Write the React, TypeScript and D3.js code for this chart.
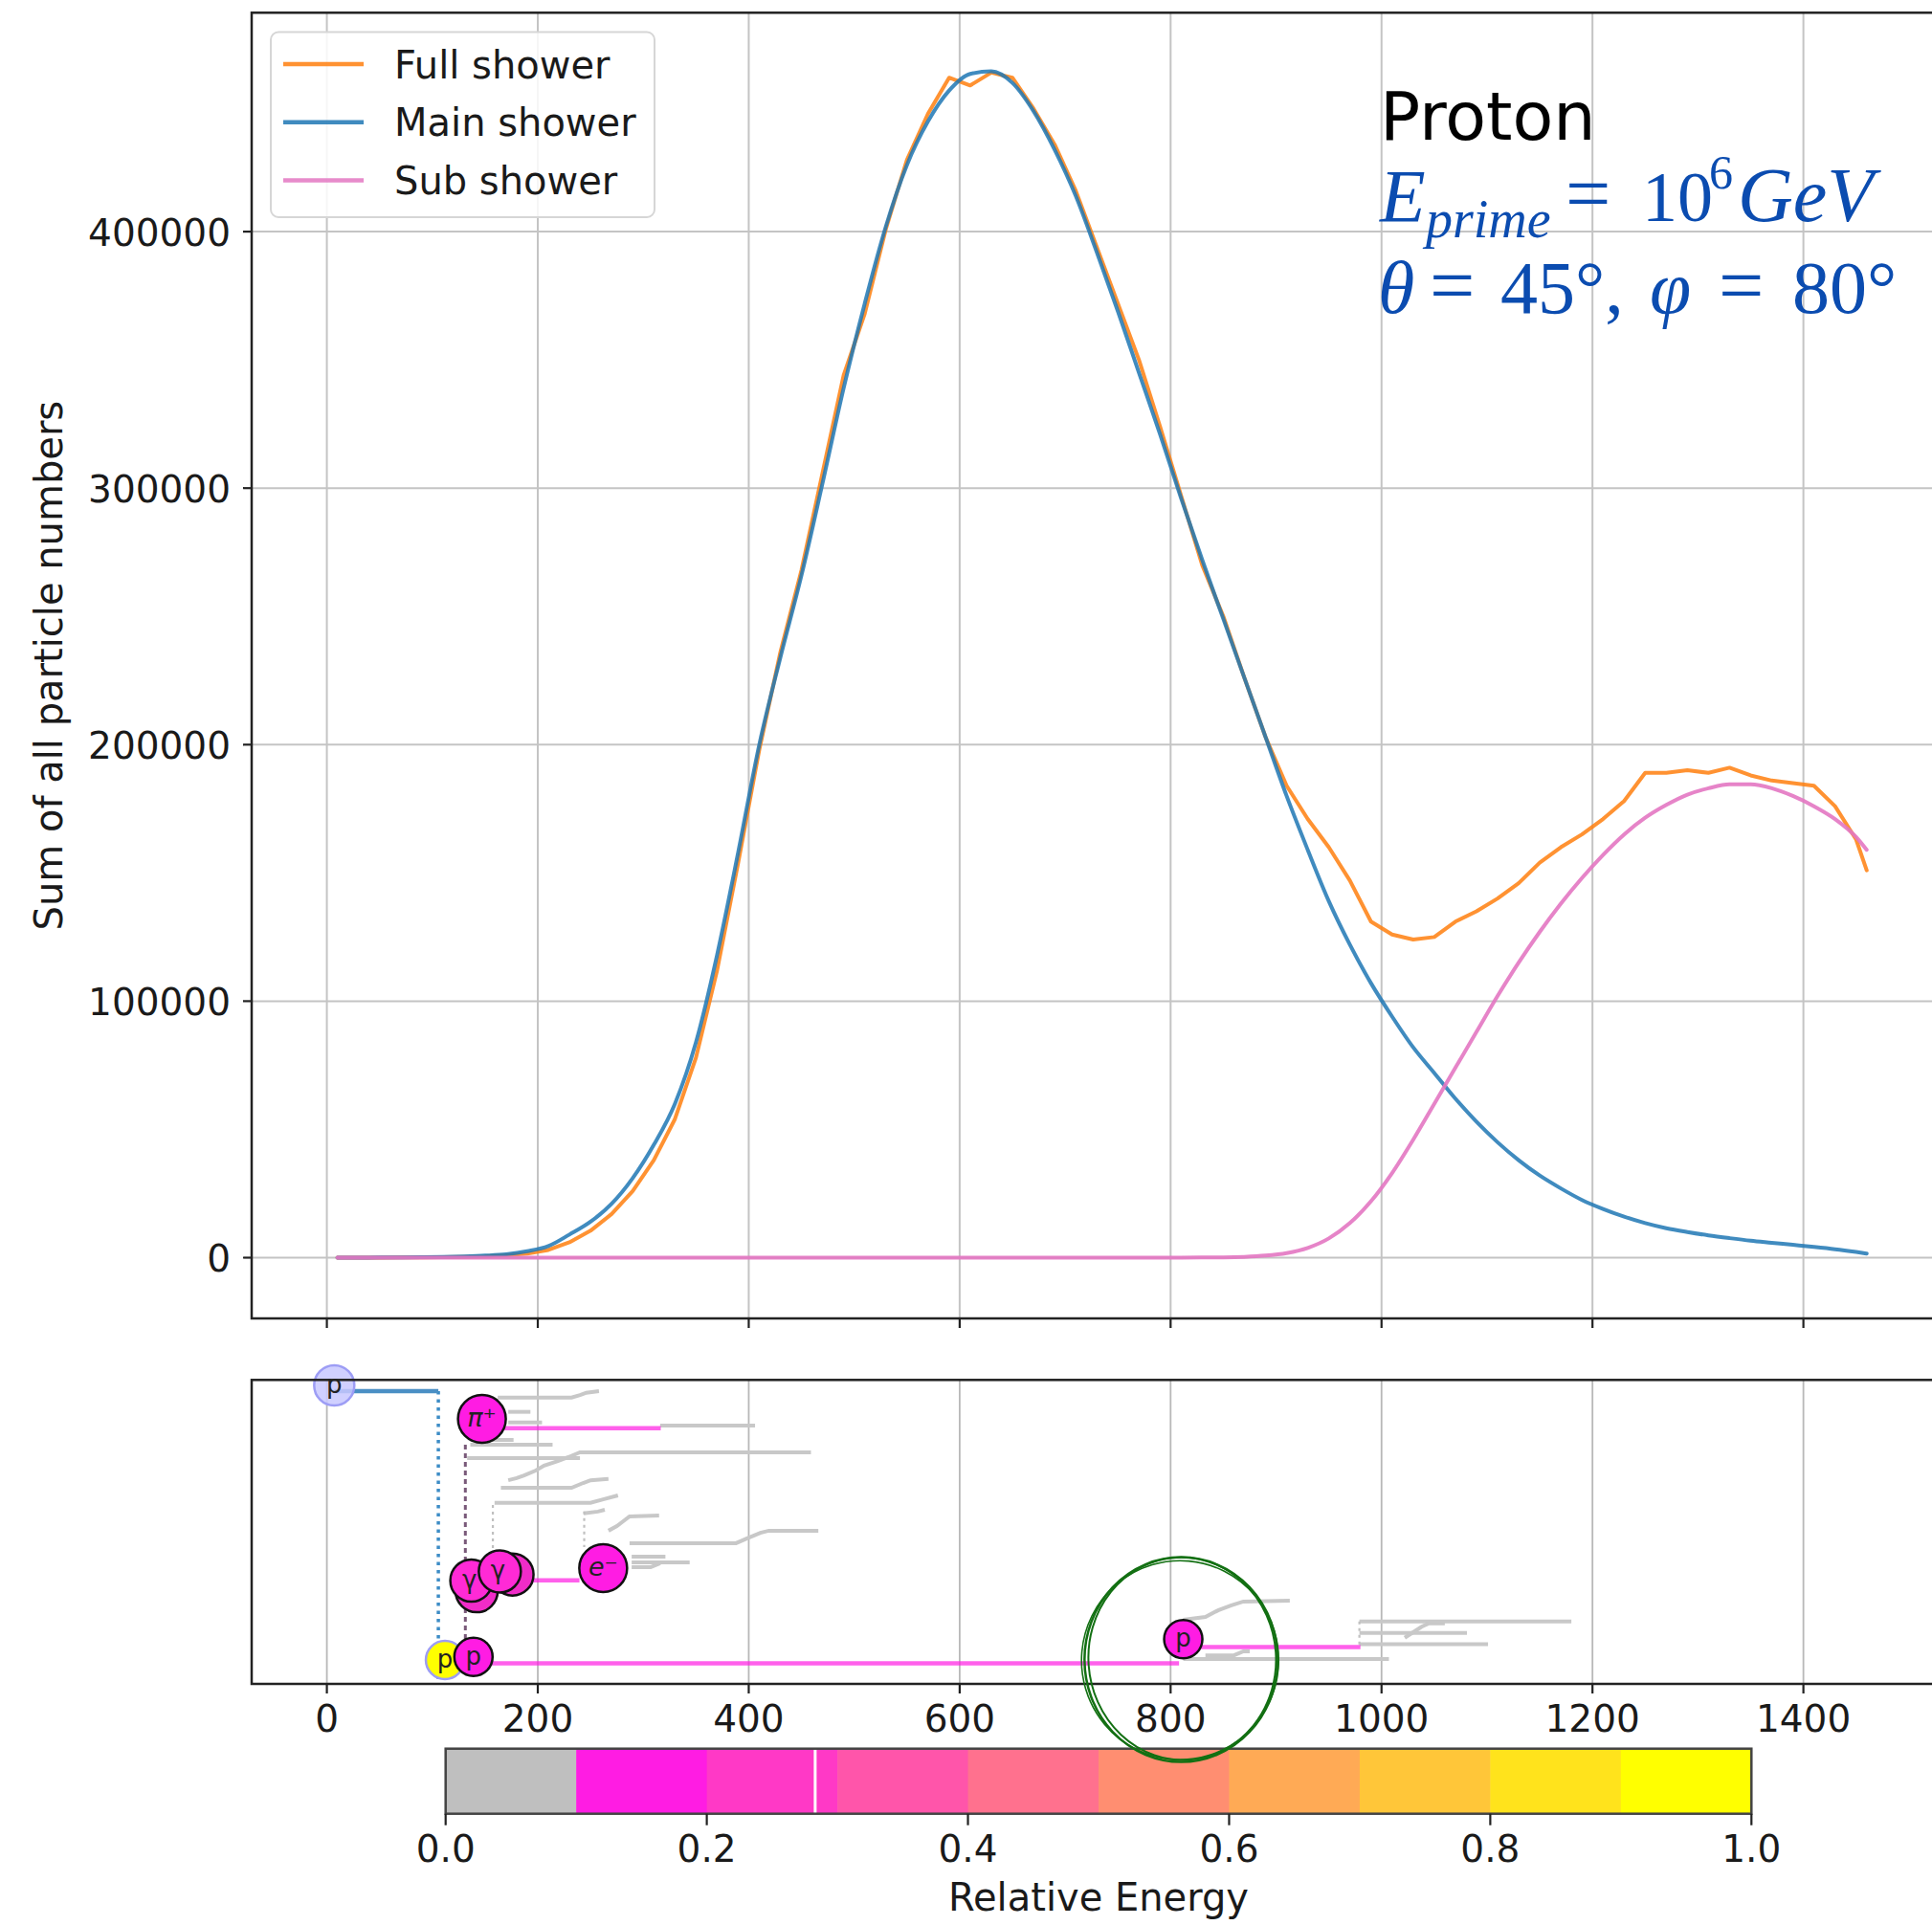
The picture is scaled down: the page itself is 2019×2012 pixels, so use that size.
import React from 'react'
import * as d3 from 'd3'

// ---- data ----
const showerX = [10, 30, 50, 70, 90, 110, 130, 150, 170, 190, 210, 230, 250, 270, 290, 310, 330, 350, 370, 390,
  410, 430, 450, 470, 490, 510, 530, 550, 570, 590, 610, 630, 650, 670, 690, 710, 730, 750, 770, 790,
  810, 830, 850, 870, 890, 910, 930, 950, 970, 990, 1010, 1030, 1050, 1070, 1090, 1110, 1130, 1150, 1170, 1190,
  1210, 1230, 1250, 1270, 1290, 1310, 1330, 1350, 1370, 1390, 1410, 1430, 1450, 1460]

const fullShower = [0, 0, 0, 50, 100, 200, 300, 500, 900, 1600, 3000, 6000, 10500, 17000, 26000, 38000, 54000, 78000, 112000, 154000,
  198000, 236000, 268000, 306000, 344000, 368000, 401000, 428000, 446000, 460000, 457000, 462000, 460000, 448000, 434000, 416000, 394000, 372000, 350000, 324000,
  297000, 270000, 250000, 226000, 203000, 184000, 171000, 160000, 147000, 131000, 126000, 124000, 125000, 131000, 135000, 140000, 146000, 154000, 160000, 165000,
  171000, 178000, 189000, 189000, 190000, 189000, 191000, 188000, 186000, 185000, 184000, 176000, 163000, 151000]

const mainShower = [0, 20, 50, 100, 180, 300, 500, 800, 1300, 2500, 4500, 9000, 14000, 21000, 31000, 44000, 60000, 84000, 118000, 158000,
  200000, 234000, 266000, 302000, 339000, 372000, 402000, 426000, 443000, 455000, 461500, 462500, 458000, 447000, 432000, 414000, 392000, 369000, 345000, 321000,
  296000, 272000, 249000, 226000, 203000, 180000, 159000, 139000, 122000, 107000, 94000, 82000, 72000, 62000, 53000, 45000, 38000, 32000, 27000, 22500,
  19000, 16000, 13500, 11500, 10000, 8700, 7600, 6600, 5800, 5000, 4200, 3300, 2200, 1600]

const subShower = [0, 0, 0, 0, 0, 0, 0, 0, 0, 0, 0, 0, 0, 0, 0, 0, 0, 0, 0, 0,
  0, 0, 0, 0, 0, 0, 0, 0, 0, 0, 0, 0, 0, 0, 0, 0, 0, 0, 0, 20,
  40, 60, 100, 300, 800, 1800, 3800, 7500, 13500, 22000, 33000, 46000, 60000, 74000, 88000, 102000, 115000, 127000, 138000, 148000,
  157000, 165000, 171500, 176500, 180500, 183000, 184500, 184500, 183000, 180000, 176000, 171000, 164000, 159000]

const seriesNames = ['Full shower', 'Main shower', 'Sub shower']
const seriesColors = ['#ff7f0e', '#1f77b4', '#e377c2']

const xTicks = [0, 200, 400, 600, 800, 1000, 1200, 1400]
const yTicks = [0, 100000, 200000, 300000, 400000]
const cbTicks = [0, 0.2, 0.4, 0.6, 0.8, 1.0]
const cbColors = ['#bfbfbf', '#ff1ce3', '#ff39c6', '#ff55aa', '#ff718e', '#ff8e71', '#ffaa55', '#ffc639', '#ffe31c', '#ffff00']
const cbMarker = 0.283

// shower tree (x in shower units, y in branch height 0..100)
const particles = [
  { name: 'p', x: 7, y: 98.2, r: 21, fill: '#c8c8ff', stroke: '#9d9df5' },
  { name: 'π⁺', x: 147, y: 87.2, r: 25, fill: '#ff1ce3', stroke: '#111' },
  { name: '', x: 142, y: 30.5, r: 22, fill: '#f02cc8', stroke: '#111' },
  { name: 'γ', x: 137, y: 34, r: 22, fill: '#ff2ad6', stroke: '#111' },
  { name: '', x: 176, y: 36, r: 22, fill: '#f02cc8', stroke: '#111' },
  { name: 'γ', x: 164, y: 37, r: 22, fill: '#ff2ad6', stroke: '#111' },
  { name: 'e⁻', x: 262, y: 38.1, r: 25, fill: '#ff1ce3', stroke: '#111' },
  { name: 'p', x: 112, y: 7.9, r: 20, fill: '#ffff00', stroke: '#9d9df5' },
  { name: 'p', x: 139, y: 8.9, r: 20, fill: '#ff1ce3', stroke: '#111' },
  { name: 'p', x: 812, y: 14.7, r: 20, fill: '#ff1ce3', stroke: '#111' },
]

const primaryTrack = [[7, 96.3], [105.7, 96.3]]
const primaryDrop = [[105.7, 96.3], [105.7, 0]]
const pionDrop = [[131.3, 78.7], [131.3, 8.5]]
const grayDrops = [
  [[157.4, 58.9], [157.4, 43.4]],
  [[244, 56.7], [244, 45]],
  [[979, 20.5], [979, 12.6]],
]

const subTracks = [
  [[139, 6.8], [808, 6.8]],
  [[147, 84.1], [316.6, 84.1]],
  [[176, 34.1], [239.5, 34.1]],
  [[812, 12.1], [980, 12.1]],
]

const grayBranches = [
  [[162, 94.2], [232, 94.2], [240, 95], [246, 95.8], [258, 96.3]],
  [[172, 89.5], [193, 89.5]],
  [[172, 86], [204, 86]],
  [[316, 85], [406, 85]],
  [[136, 80.3], [177, 80.3]],
  [[136, 78.7], [214, 78.7]],
  [[172, 67], [180, 67.7], [187, 68.6], [198, 70.2], [206, 71.8], [219, 73.3], [229, 74.6], [240, 76.2], [459, 76.2]],
  [[133, 74.3], [240, 74.3]],
  [[165, 64.5], [232, 64.5], [243, 66.1], [250, 67], [267, 67.4]],
  [[159, 59.6], [250, 59.6], [262, 60.7], [276, 62]],
  [[243.5, 56.1], [257, 56.7], [263.5, 57.3]],
  [[267, 50.4], [275, 51.9], [281, 53.5], [287, 55.1], [315, 55.4]],
  [[287, 46.3], [388, 46.3], [398, 47.8], [411, 49.7], [419, 50.4], [466, 50.4]],
  [[289, 41.9], [321, 41.9]],
  [[289, 40], [344, 40]],
  [[289, 38.4], [307, 38.4], [316, 39.7]],
  [[812, 21.1], [833, 22], [845, 24.2], [857, 25.8], [869, 27.1], [913, 27.4]],
  [[812, 8.2], [1007, 8.2]],
  [[833, 9.4], [860, 9.4], [869, 10.7], [875, 10.7]],
  [[979, 20.5], [1180, 20.5]],
  [[979, 16.8], [1081, 16.8]],
  [[979, 13.1], [1101, 13.1]],
  [[1022, 15.2], [1030, 17], [1038, 18.8], [1045, 19.9], [1060, 19.9]],
]

const FONT = 'DejaVu Sans'
const SERIF = 'Liberation Serif'
const BLUE = '#0b4cb0'

export default function App() {
  const W = 2019, H = 2012
  const up = { left: 263, right: 2029, top: 13.3, bottom: 1378 }
  const low = { top: 1442.3, bottom: 1760 }
  const cb = { left: 465.7, right: 1830.3, top: 1827.7, bottom: 1895.7 }

  const x = d3.scaleLinear().domain([-71.3, 1531]).range([up.left, up.right])
  const y = d3.scaleLinear().domain([-23685, 485340]).range([up.bottom, up.top])
  const yl = d3.scaleLinear().domain([0, 100]).range([low.bottom, low.top])
  const c = d3.scaleLinear().domain([0, 1]).range([cb.left, cb.right])

  const smooth = d3.line<number>().x((_, i) => x(showerX[i])).curve(d3.curveMonotoneX)
  const rough = d3.line<number>().x((_, i) => x(showerX[i]))
  const fullPath = rough.y(d => y(d))(fullShower) || ''
  const mainPath = smooth.y(d => y(d))(mainShower) || ''
  const subPath = smooth.y(d => y(d))(subShower) || ''

  const seg = d3.line<number[]>().x(d => x(d[0])).y(d => yl(d[1]))

  const tickFont = 39
  const textCol = '#1a1a1a'

  return (
    <svg width={W} height={H} style={{ position: 'absolute', left: 0, top: 0, background: '#fff' }} fontFamily={FONT}>
      <defs>
        <clipPath id="upclip">
          <rect x={up.left} y={up.top} width={up.right - up.left} height={up.bottom - up.top} />
        </clipPath>
      </defs>
      <rect width={W} height={H} fill="#fff" />

      {/* ---- upper plot ---- */}
      <g>
        {xTicks.map(t => (
          <line key={'gx' + t} x1={x(t)} x2={x(t)} y1={up.top} y2={up.bottom} stroke="#c4c4c4" strokeWidth={2} />
        ))}
        {yTicks.map(t => (
          <line key={'gy' + t} x1={up.left} x2={up.right} y1={y(t)} y2={y(t)} stroke="#c4c4c4" strokeWidth={2} />
        ))}
        <g clipPath="url(#upclip)" fill="none" strokeWidth={4} strokeLinejoin="round" strokeLinecap="round">
          <path d={fullPath} stroke={seriesColors[0]} strokeOpacity={0.85} />
          <path d={mainPath} stroke={seriesColors[1]} strokeOpacity={0.85} />
          <path d={subPath} stroke={seriesColors[2]} strokeOpacity={0.9} />
        </g>
        <rect x={up.left} y={up.top} width={up.right - up.left} height={up.bottom - up.top} fill="none" stroke="#222" strokeWidth={2.5} />
        {yTicks.map(t => (
          <g key={'ty' + t}>
            <line x1={up.left - 9} x2={up.left} y1={y(t)} y2={y(t)} stroke="#222" strokeWidth={2.2} />
            <text x={up.left - 22} y={y(t) + 14.5} textAnchor="end" fontSize={tickFont} fill={textCol}>{t}</text>
          </g>
        ))}
        {xTicks.map(t => (
          <line key={'tx' + t} x1={x(t)} x2={x(t)} y1={up.bottom} y2={up.bottom + 10} stroke="#222" strokeWidth={2.2} />
        ))}
        <text transform={`translate(65,${(up.top + up.bottom) / 2}) rotate(-90)`} textAnchor="middle" fontSize={40} fill={textCol}>
          Sum of all particle numbers
        </text>

        {/* legend */}
        <rect x={283} y={33.5} width={401} height={193.5} rx={8} fill="#fff" fillOpacity={0.85} stroke="#d6d6d6" strokeWidth={2} />
        {seriesNames.map((n, i) => (
          <g key={n}>
            <line x1={296} x2={380} y1={67 + i * 60.7} y2={67 + i * 60.7} stroke={seriesColors[i]} strokeOpacity={0.85} strokeWidth={4.5} />
            <text x={412} y={67 + i * 60.7 + 14.5} fontSize={40} fill={textCol}>{n}</text>
          </g>
        ))}

        {/* annotation */}
        <text x={1442} y={146} fontSize={70} fill="#000">Proton</text>
        <g fontFamily={SERIF} fill={BLUE}>
          <text x={1442} y={231} fontSize={78} fontStyle="italic">E</text>
          <text x={1490} y={248} fontSize={56} fontStyle="italic">prime</text>
          <text x={1636} y={231} fontSize={84}>=</text>
          <text x={1716} y={231} fontSize={74}>10</text>
          <text x={1786} y={197} fontSize={50}>6</text>
          <text x={1816} y={231} fontSize={80} fontStyle="italic" fontWeight="normal">GeV</text>
          <text x={1440} y={327} fontSize={78} fontStyle="italic">θ</text>
          <text x={1494} y={327} fontSize={84}>=</text>
          <text x={1568} y={327} fontSize={78}>45°,</text>
          <text x={1724} y={327} fontSize={78} fontStyle="italic">φ</text>
          <text x={1796} y={327} fontSize={84}>=</text>
          <text x={1873} y={327} fontSize={78}>80°</text>
        </g>
      </g>

      {/* ---- lower plot: shower tree ---- */}
      <g>
        {xTicks.map(t => (
          <line key={'lgx' + t} x1={x(t)} x2={x(t)} y1={low.top} y2={low.bottom} stroke="#b8b8b8" strokeWidth={1.8} />
        ))}
        <g fill="none" stroke="#c8c8c8" strokeWidth={4}>
          {grayBranches.map((b, i) => <path key={'gb' + i} d={seg(b) || ''} />)}
        </g>
        {grayDrops.map((b, i) => (
          <path key={'gd' + i} d={seg(b) || ''} fill="none" stroke="#c0c0c0" strokeWidth={2.2} strokeDasharray="3 4" />
        ))}
        <path d={seg(primaryDrop) || ''} fill="none" stroke="#3d8cc6" strokeWidth={3.5} strokeDasharray="3.5 5" />
        <path d={seg(pionDrop) || ''} fill="none" stroke="#7a5a7a" strokeWidth={3} strokeDasharray="5 4" />
        <path d={seg(primaryTrack) || ''} fill="none" stroke="#4a8fc4" strokeWidth={4.5} />
        {subTracks.map((b, i) => (
          <path key={'st' + i} d={seg(b) || ''} fill="none" stroke="#ff1ce3" strokeOpacity={0.7} strokeWidth={4.5} />
        ))}
        {particles.map((p, i) => (
          <g key={'pt' + i}>
            <circle cx={x(p.x)} cy={yl(p.y)} r={p.r} fill={p.fill} fillOpacity={i === 0 ? 0.85 : 1}
              stroke={p.stroke} strokeWidth={2.5} />
            {p.name && (
              <text x={x(p.x) - (p.name === 'γ' ? 2 : 0)} y={yl(p.y) + 8} textAnchor="middle" fontSize={p.name.length > 1 ? 27 : 26}
                fontStyle={p.name === 'p' || p.name === 'γ' ? 'normal' : 'italic'} fill="#222">{p.name}</text>
            )}
          </g>
        ))}
        <rect x={up.left} y={low.top} width={up.right - up.left} height={low.bottom - low.top} fill="none" stroke="#222" strokeWidth={2.5} />
        {xTicks.map(t => (
          <g key={'ltx' + t}>
            <line x1={x(t)} x2={x(t)} y1={low.bottom} y2={low.bottom + 10} stroke="#222" strokeWidth={2.2} />
            <text x={x(t)} y={1810} textAnchor="middle" fontSize={tickFont} fill={textCol}>{t}</text>
          </g>
        ))}
      </g>

      {/* ---- colour bar ---- */}
      <g>
        {cbColors.map((col, i) => (
          <rect key={'cb' + i} x={c(i / cbColors.length)} y={cb.top} width={c((i + 1) / cbColors.length) - c(i / cbColors.length) + 0.5}
            height={cb.bottom - cb.top} fill={col} />
        ))}
        <line x1={c(cbMarker)} x2={c(cbMarker)} y1={cb.top} y2={cb.bottom} stroke="#fff" strokeWidth={3} />
        <rect x={cb.left} y={cb.top} width={cb.right - cb.left} height={cb.bottom - cb.top} fill="none" stroke="#444" strokeWidth={2.5} />
        {cbTicks.map(t => (
          <g key={'cbt' + t}>
            <line x1={c(t)} x2={c(t)} y1={cb.bottom} y2={cb.bottom + 12} stroke="#222" strokeWidth={2.2} />
            <text x={c(t)} y={1946} textAnchor="middle" fontSize={tickFont} fill={textCol}>{t.toFixed(1)}</text>
          </g>
        ))}
        <text x={(cb.left + cb.right) / 2} y={1997} textAnchor="middle" fontSize={40} fill={textCol}>Relative Energy</text>
      </g>

      {/* hand-drawn highlight around the sub-shower proton */}
      <g fill="none" stroke="#137013">
        <ellipse cx={x(810)} cy={yl(8)} rx={101} ry={107} strokeWidth={2.5} />
        <ellipse cx={x(811)} cy={yl(8.3)} rx={98} ry={106} strokeWidth={2} transform={`rotate(-4 ${x(811)} ${yl(8.3)})`} />
        <ellipse cx={x(809)} cy={yl(7.8)} rx={103} ry={104} strokeWidth={1.6} transform={`rotate(5 ${x(809)} ${yl(7.8)})`} />
      </g>
    </svg>
  )
}
